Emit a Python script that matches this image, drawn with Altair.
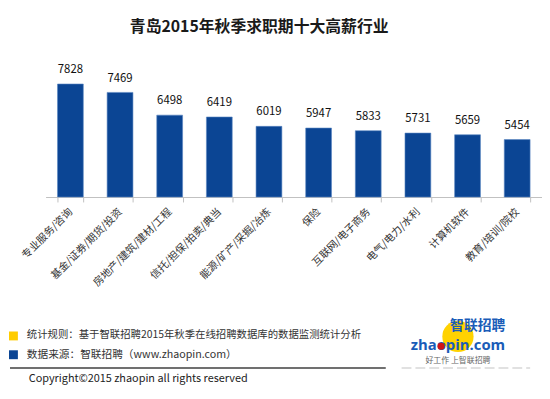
import altair as alt
import pandas as pd

categories = ["专业服务/咨询", "基金/证券/期货/投资", "房地产/建筑/建材/工程", "信托/担保/拍卖/典当",
              "能源/矿产/采掘/冶炼", "保险", "互联网/电子商务", "电气/电力/水利", "计算机软件", "教育/培训/院校"]
salaries = [7828, 7469, 6498, 6419, 6019, 5947, 5833, 5731, 5659, 5454]

title_text = "青岛2015年秋季求职期十大高薪行业"
note_rule = "统计规则：基于智联招聘2015年秋季在线招聘数据库的数据监测统计分析"
note_source = "数据来源：智联招聘（www.zhaopin.com）"
copyright_text = "Copyright©2015 zhaopin all rights reserved"

FONT = "Noto Sans CJK SC"
df = pd.DataFrame({"行业": categories, "薪资": salaries})

xenc = alt.X("行业:N", sort=None, title=None,
             scale=alt.Scale(paddingInner=0.48, paddingOuter=0.24),
             axis=alt.Axis(labelAngle=-45, labelAlign="right", labelBaseline="middle",
                           labelFont=FONT, labelFontSize=10.5, labelColor="#333333",
                           labelPadding=8, domainColor="#c0c0c0", tickColor="#c0c0c0",
                           tickSize=5, ticks=True, tickBand="extent"))
yenc = alt.Y("薪资:Q", scale=alt.Scale(domain=[3000, 9000], zero=False, clamp=True), axis=None)

bars = alt.Chart(df).mark_bar(color="#0B4594", stroke="#5a86c2", strokeWidth=0.6).encode(
    x=xenc, y=yenc, y2=alt.datum(3000))
labels = alt.Chart(df).mark_text(dy=-14, font=FONT, fontSize=11.5, color="#111111").encode(
    x=alt.X("行业:N", sort=None), y=yenc, text="薪资:Q")

def txt(t, x, y, size=12, color="#333333", weight="normal", align="left", font=FONT):
    return alt.Chart(pd.DataFrame({"t": [t]})).mark_text(
        align=align, baseline="middle", fontSize=size, color=color, fontWeight=weight, font=font
    ).encode(x=alt.value(x), y=alt.value(y), text="t:N")

def rect(x1, x2, y1, y2, color):
    return alt.Chart(pd.DataFrame({"a": [0]})).mark_rect(color=color).encode(
        x=alt.value(x1), x2=alt.value(x2), y=alt.value(y1), y2=alt.value(y2))

title = txt(title_text, 216, -30, size=16, color="#1a1a1a", weight="bold", align="center")
sq1 = rect(-37, -28, 278, 287, "#FFCC00")
sq2 = rect(-37, -28, 297, 306, "#0B4594")
t1 = txt(note_rule, -19, 282, size=10.5)
t2 = txt(note_source, -19, 302, size=10.8)
line = alt.Chart(pd.DataFrame({"a": [0]})).mark_rule(color="#404040", strokeWidth=1.5).encode(
    x=alt.value(-36), x2=alt.value(344), y=alt.value(315))
line2 = alt.Chart(pd.DataFrame({"a": [0]})).mark_rule(color="#d8d8d8", strokeWidth=1.5, strokeDash=[10, 4]).encode(
    x=alt.value(360), x2=alt.value(490), y=alt.value(315))
t3 = txt(copyright_text, -17, 326, size=11, color="#222222")
circle = alt.Chart(pd.DataFrame({"a": [0]})).mark_point(filled=True, color="#FFD200", opacity=1, size=1000).encode(
    x=alt.value(417), y=alt.value(283))
logo1 = txt("智联招聘", 437, 272, size=14, color="#1a5cb8", weight="bold", align="center")
logo2 = txt("zhaopin.com", 417, 292, size=15, color="#1a5cb8", weight="bold", align="center", font="Open Sans")
dot = alt.Chart(pd.DataFrame({"a": [0]})).mark_point(filled=True, color="#d01515", opacity=1, size=50).encode(
    x=alt.value(400), y=alt.value(293))
logo3 = txt("好工作 上智联招聘", 417, 308, size=8, color="#666666", align="center")

chart = alt.layer(bars, labels, title, sq1, sq2, t1, t2, line, line2, t3, circle, logo1, logo2, dot, logo3).properties(
    width=502, height=142,
    autosize=alt.AutoSizeParams(type="none"),
    padding={"left": 38, "top": 47, "right": 0, "bottom": 190},
    background="white"
).configure_view(stroke=None)

chart.save("out.html", embed_options={"renderer": "svg", "actions": False})
